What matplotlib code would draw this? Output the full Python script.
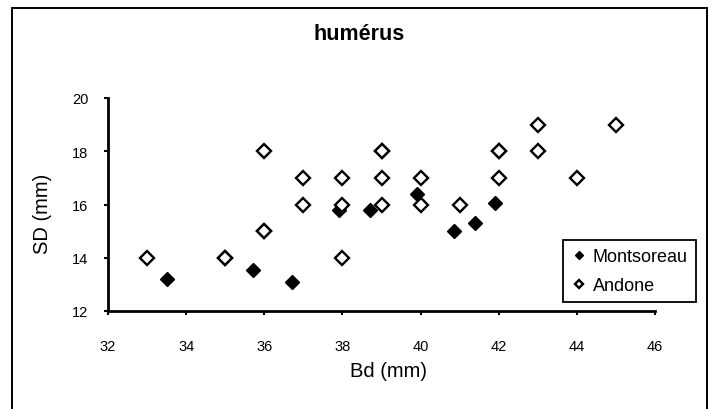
import matplotlib
matplotlib.use("Agg")
import matplotlib.pyplot as plt
from matplotlib.patches import Rectangle

plt.rcParams["font.family"] = ["Liberation Sans", "DejaVu Sans"]

# Montsoreau (filled diamonds)
montsoreau_bd = [33.5, 35.7, 36.7, 37.9, 38.7, 39.9, 40.85, 41.4, 41.9]
montsoreau_sd = [13.2, 13.55, 13.1, 15.8, 15.8, 16.4, 15.0, 15.3, 16.05]

# Andone (open diamonds)
andone_bd = [33, 35, 35, 36, 36, 36, 37, 37, 38, 38, 38, 39, 39, 39, 39,
             40, 40, 41, 42, 42, 42, 43, 43, 44, 45]
andone_sd = [14, 14, 14, 18, 15, 15, 17, 16, 17, 16, 14, 18, 18, 17, 16,
             17, 16, 16, 18, 18, 17, 19, 18, 17, 19]

x_ticks = [32, 34, 36, 38, 40, 42, 44, 46]
y_ticks = [12, 14, 16, 18, 20]

W, H = 712, 410
fig = plt.figure(figsize=(W / 100, H / 100), dpi=100)
ax = fig.add_axes([108 / W, 1 - 312 / H, 547 / W, 213 / H])

ax.plot(montsoreau_bd, montsoreau_sd, linestyle="none", marker="D",
        markersize=7.0, markerfacecolor="black", markeredgecolor="black",
        markeredgewidth=1.0, label="Montsoreau", zorder=3, clip_on=False)
ax.plot(andone_bd, andone_sd, linestyle="none", marker="D",
        markersize=6.8, markerfacecolor="white", markeredgecolor="black",
        markeredgewidth=1.7, label="Andone", zorder=4, clip_on=False)

ax.set_xlim(32, 46)
ax.set_ylim(12, 20)
ax.set_xticks(x_ticks)
ax.set_yticks(y_ticks)

for side in ["top", "right"]:
    ax.spines[side].set_visible(False)
for side in ["left", "bottom"]:
    ax.spines[side].set_linewidth(2.0)
    ax.spines[side].set_color("black")

ax.tick_params(axis="x", direction="out", length=3, width=1.5,
               labelsize=10.5, pad=17)
ax.tick_params(axis="y", direction="out", length=3, width=1.5,
               labelsize=10.5, pad=11)

ax.set_xlabel("Bd (mm)", fontsize=14.5, va="center")
ax.xaxis.set_label_coords((388 - 108) / 547, (312 - 372) / 213)
ax.set_ylabel("SD (mm)", fontsize=14.5, va="center")
ax.yaxis.set_label_coords((43 - 108) / 547, (312 - 214) / 213)

fig.suptitle("humérus", x=359.5 / W, y=1 - 35 / H, va="center",
             fontsize=15.5, fontweight="bold")

leg = ax.legend(loc="upper left",
                bbox_to_anchor=(563 / W, 1 - 241 / H),
                bbox_transform=fig.transFigure,
                fontsize=13, frameon=True, fancybox=False,
                edgecolor="black", framealpha=1, markerscale=0.55,
                handlelength=0.9, handletextpad=0.3, borderpad=0.45,
                labelspacing=0.65, borderaxespad=0)
leg.get_frame().set_linewidth(1.3)

# chart frame
fig.patches.append(Rectangle((12 / W, -0.02), (707 - 12) / W, 1.02 - 9 / H,
                             transform=fig.transFigure, fill=False,
                             edgecolor="black", linewidth=1.4))

fig.savefig("out.png", dpi=100)
